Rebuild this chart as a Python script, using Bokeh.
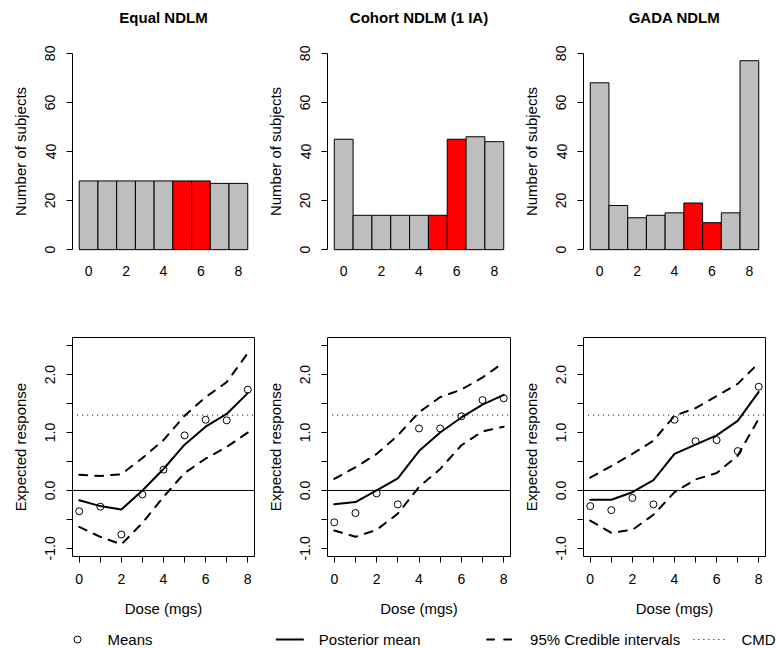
from bokeh.plotting import figure
from bokeh.layouts import column, row
from bokeh.models import FixedTicker, PrintfTickFormatter, Range1d, Span
from bokeh.embed import file_html
from bokeh.resources import INLINE

FONT = "Liberation Sans"

# ---------------- data ----------------
titles = ["Equal NDLM", "Cohort NDLM (1 IA)", "GADA NDLM"]
doses = [0, 1, 2, 3, 4, 5, 6, 7, 8]
highlight_doses = [5, 6]

n_equal = [28, 28, 28, 28, 28, 28, 28, 27, 27]
n_cohort = [45, 14, 14, 14, 14, 14, 45, 46, 44]
n_gada = [68, 18, 13, 14, 15, 19, 11, 15, 77]

means_equal = [-0.36, -0.28, -0.76, -0.07, 0.36, 0.95, 1.22, 1.21, 1.74]
post_equal = [-0.17, -0.27, -0.33, 0.00, 0.37, 0.79, 1.10, 1.32, 1.68]
upper_equal = [0.27, 0.25, 0.28, 0.56, 0.87, 1.29, 1.61, 1.87, 2.37]
lower_equal = [-0.63, -0.80, -0.93, -0.56, -0.11, 0.30, 0.55, 0.75, 1.00]

means_cohort = [-0.55, -0.39, -0.05, -0.24, 1.07, 1.07, 1.28, 1.56, 1.59]
post_cohort = [-0.24, -0.20, 0.00, 0.21, 0.68, 1.00, 1.26, 1.48, 1.65]
upper_cohort = [0.20, 0.40, 0.63, 0.95, 1.35, 1.61, 1.74, 1.95, 2.21]
lower_cohort = [-0.69, -0.80, -0.68, -0.40, 0.06, 0.37, 0.78, 1.02, 1.10]

means_gada = [-0.27, -0.34, -0.13, -0.24, 1.22, 0.85, 0.87, 0.68, 1.79]
post_gada = [-0.16, -0.16, -0.03, 0.18, 0.63, 0.79, 0.95, 1.20, 1.70]
upper_gada = [0.22, 0.42, 0.63, 0.86, 1.29, 1.42, 1.63, 1.84, 2.20]
lower_gada = [-0.52, -0.73, -0.68, -0.42, -0.03, 0.19, 0.30, 0.60, 1.24]

cmd_value = 1.3

bar_ticks = [0, 2, 4, 6, 8]
count_ticks = [0, 20, 40, 60, 80]
resp_ticks = [-1.0, 0.0, 1.0, 2.0]
resp_minor = [-0.5, 0.5, 1.5, 2.5]
dose_minor = [1, 3, 5, 7]

legend_labels = ["Means", "Posterior mean", "95% Credible intervals", "CMD"]

counts = [n_equal, n_cohort, n_gada]
means = [means_equal, means_cohort, means_gada]
posts = [post_equal, post_cohort, post_gada]
uppers = [upper_equal, upper_cohort, upper_gada]
lowers = [lower_equal, lower_cohort, lower_gada]

# ---------------- layout constants ----------------
W = 776
LEFTS = [72, 69, 69]
FWS = [182, 183, 182]
RIGHTS = [4, 4, 11]
TITLE_H = 30
LW = 2


def style_axis(ax):
    ax.axis_line_color = "black"
    ax.major_tick_line_color = "black"
    ax.minor_tick_line_color = "black"
    ax.major_tick_out = 6
    ax.major_tick_in = 0
    ax.minor_tick_out = 6
    ax.minor_tick_in = 0
    ax.major_label_text_font = FONT
    ax.major_label_text_font_size = "14px"
    ax.major_label_text_color = "black"
    ax.axis_label_text_font = FONT
    ax.axis_label_text_font_size = "15px"
    ax.axis_label_text_font_style = "normal"
    ax.axis_label_text_color = "black"


def make_fig(i, top, fh, bottom, xr, yr):
    p = figure(frame_width=FWS[i], frame_height=fh,
               min_border_left=LEFTS[i], min_border_right=RIGHTS[i],
               min_border_top=top, min_border_bottom=bottom,
               x_range=xr, y_range=yr, output_backend="svg",
               toolbar_location=None, background_fill_color="white",
               border_fill_color="white")
    p.grid.visible = False
    return p


def strip(height):
    s = figure(width=W, height=height, x_range=Range1d(0, W),
               y_range=Range1d(0, height), output_backend="svg",
               toolbar_location=None, min_border_left=0, min_border_right=0,
               min_border_top=0, min_border_bottom=0, x_axis_type=None,
               y_axis_type=None, background_fill_color="white",
               border_fill_color="white")
    s.grid.visible = False
    s.outline_line_color = None
    return s


# ---------------- title strip ----------------
centers = []
x0 = 0
for i in range(3):
    centers.append(x0 + LEFTS[i] + FWS[i] / 2)
    x0 += LEFTS[i] + FWS[i] + RIGHTS[i]
tstrip = strip(TITLE_H)
tstrip.text(x=centers, y=[TITLE_H - 17] * 3, text=titles,
            text_font={"value": FONT}, text_font_size={"value": "15px"},
            text_font_style="bold", text_baseline="middle",
            text_align="center", text_color="black")

# ---------------- top row: bars ----------------
top_figs = []
for i in range(3):
    p = make_fig(i, 45 - TITLE_H, 212, 43, Range1d(-0.86, 8.86),
                 Range1d(-3.2, 83.2))
    p.outline_line_color = None
    colors = ["#FF0000" if d in highlight_doses else "#BEBEBE" for d in doses]
    p.vbar(x=doses, top=counts[i], width=1, bottom=0, fill_color=colors,
           line_color="black", line_width=1)
    xa = p.xaxis[0]
    style_axis(xa)
    xa.ticker = FixedTicker(ticks=bar_ticks)
    xa.axis_line_color = None
    xa.major_tick_line_color = None
    xa.major_tick_out = 0
    xa.major_label_standoff = 8
    ya = p.yaxis[0]
    style_axis(ya)
    ya.ticker = FixedTicker(ticks=count_ticks)
    ya.bounds = (count_ticks[0], count_ticks[-1])
    ya.major_label_orientation = "vertical"
    ya.major_label_standoff = 11
    ya.axis_label = "Number of subjects"
    ya.axis_label_standoff = 14
    top_figs.append(p)

# ---------------- bottom row: responses ----------------
bot_figs = []
for i in range(3):
    p = make_fig(i, 37, 219, 68, Range1d(-0.32, 8.32), Range1d(-1.14, 2.64))
    p.outline_line_color = "black"
    p.outline_line_width = 1
    p.outline_line_alpha = 1.0
    p.add_layout(Span(location=0, dimension="width", line_color="black",
                      line_width=1))
    p.segment(x0=[doses[0] - 0.1], y0=[cmd_value], x1=[doses[-1] + 0.5],
              y1=[cmd_value], line_color="black", line_width=1,
              line_dash="1 4")
    for band in (uppers[i], lowers[i]):
        p.line(doses, band, line_color="black", line_width=LW,
               line_dash="8 8", line_cap="round", line_join="round")
    p.line(doses, posts[i], line_color="black", line_width=LW,
           line_cap="round", line_join="round")
    p.scatter(doses, means[i], marker="circle", size=7, fill_color=None,
              line_color="black", line_width=1)
    xa = p.xaxis[0]
    style_axis(xa)
    xa.ticker = FixedTicker(ticks=bar_ticks, minor_ticks=dose_minor)
    xa.bounds = (doses[0], doses[-1])
    xa.major_label_standoff = 11
    xa.axis_label = "Dose (mgs)"
    xa.axis_label_standoff = 13
    ya = p.yaxis[0]
    style_axis(ya)
    ya.ticker = FixedTicker(ticks=resp_ticks, minor_ticks=resp_minor)
    ya.bounds = (resp_ticks[0], resp_minor[-1])
    ya.formatter = PrintfTickFormatter(format="%.1f")
    ya.major_label_orientation = "vertical"
    ya.major_label_standoff = 11
    ya.axis_label = "Expected response"
    ya.axis_label_standoff = 14
    bot_figs.append(p)

# ---------------- legend strip ----------------
leg = strip(24)
COL_W = 211.3
TEXT_X0 = 107
YC = 9
tx = [TEXT_X0 + k * COL_W for k in range(len(legend_labels))]
leg.scatter([tx[0] - 30], [YC], marker="circle", size=7, fill_color=None,
            line_color="black", line_width=1)
leg.segment(x0=[tx[1] - 43], y0=[YC], x1=[tx[1] - 15], y1=[YC],
            line_color="black", line_width=LW)
leg.segment(x0=[tx[2] - 43], y0=[YC], x1=[tx[2] - 18], y1=[YC],
            line_color="black", line_width=LW, line_dash="7 10",
            line_cap="round")
leg.segment(x0=[tx[3] - 48], y0=[YC], x1=[tx[3] - 16], y1=[YC],
            line_color="black", line_width=1, line_dash="1 4")
leg.text(x=tx, y=[YC] * 4, text=legend_labels, text_font={"value": FONT},
         text_font_size={"value": "15px"}, text_baseline="middle",
         text_align="left", text_color="black")

layout = column(tstrip, row(*top_figs), row(*bot_figs), leg)

open("out.html", "w").write(file_html(layout, INLINE))
